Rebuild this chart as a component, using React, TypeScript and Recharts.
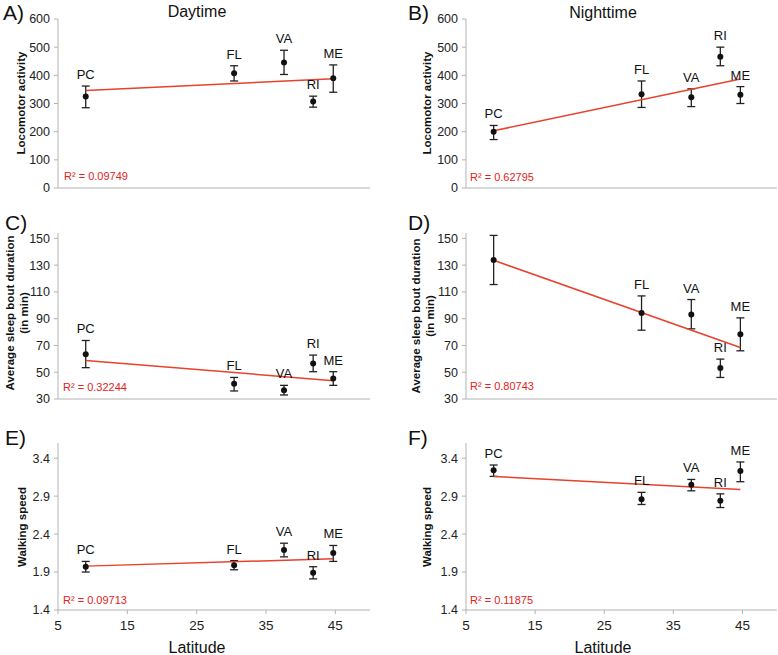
import React from 'react';
import { ScatterChart, Scatter, XAxis, YAxis, ErrorBar } from 'recharts';

// ---------- data ----------
const sites = ['PC', 'FL', 'VA', 'RI', 'ME'];
const latitude = [9.0, 30.4, 37.6, 41.8, 44.7];
const latTicks = [5, 15, 25, 35, 45];

const dayLoco = [325, 407, 446, 307, 390];
const dayLocoLo = [285, 380, 403, 287, 340];
const dayLocoHi = [362, 434, 489, 326, 437];
const dayLocoTrend = [346, 388];
const dayLocoR2 = 'R² = 0.09749';

const nightLoco = [200, 333, 322, 466, 331];
const nightLocoLo = [172, 286, 289, 434, 300];
const nightLocoHi = [222, 380, 352, 500, 360];
const nightLocoTrend = [203, 387];
const nightLocoR2 = 'R² = 0.62795';

const daySleep = [63.5, 41.4, 36.5, 56.6, 45.4];
const daySleepLo = [53.4, 36.0, 33.0, 50.4, 40.2];
const daySleepHi = [73.7, 46.1, 40.2, 62.8, 50.4];
const daySleepTrend = [58.8, 43.7];
const daySleepR2 = 'R² = 0.32244';

const nightSleep = [133.9, 94.3, 93.1, 53.1, 78.4];
const nightSleepLo = [115.5, 81.4, 82.4, 46.1, 66.0];
const nightSleepHi = [152.2, 107.0, 104.3, 59.8, 90.6];
const nightSleepTrend = [133.6, 68.5];
const nightSleepR2 = 'R² = 0.80743';

const dayWalk = [1.97, 1.99, 2.19, 1.89, 2.15];
const dayWalkLo = [1.90, 1.93, 2.10, 1.81, 2.04];
const dayWalkHi = [2.04, 2.05, 2.28, 1.97, 2.25];
const dayWalkTrend = [1.978, 2.074];
const dayWalkR2 = 'R² = 0.09713';

const nightWalk = [3.24, 2.86, 3.05, 2.84, 3.23];
const nightWalkLo = [3.16, 2.79, 2.97, 2.75, 3.09];
const nightWalkHi = [3.31, 2.95, 3.12, 2.93, 3.35];
const nightWalkTrend = [3.159, 2.989];
const nightWalkR2 = 'R² = 0.11875';

const locoTicks = [0, 100, 200, 300, 400, 500, 600];
const sleepTicks = [30, 50, 70, 90, 110, 130, 150];
const walkTicks = [1.4, 1.9, 2.4, 2.9, 3.4];

// ---------- styles ----------
const FONT = '"Liberation Sans", Arial, Helvetica, sans-serif';
const AXIS = '#b3b3b3';
const RED = '#e8412c';
const RTEXT = '#e3221b';

type PanelProps = {
  left: number; top: number; width: number; height: number;
  plotLeft: number; plotTop: number; plotRight: number; xAxisH: number; bottom: number;
  vals: number[]; lo: number[]; hi: number[]; trend: number[];
  domain: [number, number]; ticks: number[]; showX: boolean;
};

const Dot = (p: any) => <circle cx={p.cx} cy={p.cy} r={3} fill="#111" />;
const Empty = () => <g />;
const SiteLabel = (p: any) => (
  <text x={p.cx} y={p.cy - 7} textAnchor="middle" fontSize={13} fontFamily={FONT} fill="#111">
    {p.payload.name}
  </text>
);

function Panel(props: PanelProps) {
  const { vals, lo, hi, trend } = props;
  const pts = vals.map((v, i) => ({ x: latitude[i], y: v, err: [v - lo[i], hi[i] - v], name: sites[i] }));
  const labels = hi.map((h, i) => ({ x: latitude[i], y: h, name: sites[i] }));
  const trendPts = [
    { x: latitude[0], y: trend[0] },
    { x: latitude[latitude.length - 1], y: trend[1] },
  ];
  return (
    <div style={{ position: 'absolute', left: props.left, top: props.top }}>
      <ScatterChart
        width={props.width}
        height={props.height}
        margin={{ top: props.plotTop, right: props.width - props.plotRight, bottom: props.bottom, left: 0 }}
      >
        <XAxis
          type="number"
          dataKey="x"
          domain={[5, 50]}
          ticks={latTicks}
          stroke={AXIS}
          tickSize={4}
          tickMargin={6}
          height={props.xAxisH}
          tick={props.showX ? { fill: '#222', fontSize: 13.5, fontFamily: FONT } : false}
          interval={0}
        />
        <YAxis
          type="number"
          dataKey="y"
          domain={props.domain}
          ticks={props.ticks}
          stroke={AXIS}
          tickSize={4}
          tickMargin={4}
          width={props.plotLeft}
          interval={0}
          allowDataOverflow
          tick={{ fill: '#222', fontSize: 12.5, fontFamily: FONT }}
        />
        <Scatter data={trendPts} line={{ stroke: RED, strokeWidth: 1.5 }} shape={Empty} isAnimationActive={false} />
        <Scatter data={pts} shape={Dot} isAnimationActive={false}>
          <ErrorBar dataKey="err" direction="y" width={4} stroke="#222" strokeWidth={1.3} />
        </Scatter>
        <Scatter data={labels} shape={SiteLabel} isAnimationActive={false} />
      </ScatterChart>
    </div>
  );
}

const YLab = ({ cx, cy, lines }: { cx: number; cy: number; lines: string[] }) => (
  <text
    transform={`translate(${cx},${cy}) rotate(-90)`}
    textAnchor="middle"
    fontSize={11.5}
    fontWeight="bold"
    fontFamily={FONT}
    fill="#111"
  >
    {lines.map((l, i) => (
      <tspan key={i} x={0} dy={i === 0 ? (lines.length > 1 ? -3 : 4) : 14}>{l}</tspan>
    ))}
  </text>
);

export default function App() {
  const L = { left: 0, width: 390, plotLeft: 58, plotRight: 370 };
  const R = { left: 390, width: 388, plotLeft: 76, plotRight: 387 };
  const rowA = { top: 0, height: 200, plotTop: 19, xAxisH: 12, bottom: 0, domain: [0, 600] as [number, number], ticks: locoTicks, showX: false };
  const rowC = { top: 200, height: 220, plotTop: 33, xAxisH: 12, bottom: 9, domain: [30, 154] as [number, number], ticks: sleepTicks, showX: false };
  const rowE = { top: 420, height: 235, plotTop: 23, xAxisH: 30, bottom: 15, domain: [1.4, 3.6] as [number, number], ticks: walkTicks, showX: true };
  return (
    <div style={{ position: 'absolute', left: 0, top: 0, width: 778, height: 655, background: '#fff', overflow: 'hidden' }}>
      <Panel {...L} {...rowA} vals={dayLoco} lo={dayLocoLo} hi={dayLocoHi} trend={dayLocoTrend} />
      <Panel {...R} {...rowA} vals={nightLoco} lo={nightLocoLo} hi={nightLocoHi} trend={nightLocoTrend} />
      <Panel {...L} {...rowC} vals={daySleep} lo={daySleepLo} hi={daySleepHi} trend={daySleepTrend} />
      <Panel {...R} {...rowC} vals={nightSleep} lo={nightSleepLo} hi={nightSleepHi} trend={nightSleepTrend} />
      <Panel {...L} {...rowE} vals={dayWalk} lo={dayWalkLo} hi={dayWalkHi} trend={dayWalkTrend} />
      <Panel {...R} {...rowE} vals={nightWalk} lo={nightWalkLo} hi={nightWalkHi} trend={nightWalkTrend} />
      <svg width={778} height={655} style={{ position: 'absolute', left: 0, top: 0, pointerEvents: 'none' }}>
        <g fontFamily={FONT} fill="#111">
          <text x={3} y={20} fontSize={21}>A)</text>
          <text x={408} y={20} fontSize={21}>B)</text>
          <text x={5} y={230} fontSize={21}>C)</text>
          <text x={408} y={230} fontSize={21}>D)</text>
          <text x={5} y={445} fontSize={21}>E)</text>
          <text x={408} y={445} fontSize={21}>F)</text>
          <text x={197} y={17} fontSize={16} textAnchor="middle">Daytime</text>
          <text x={603} y={18} fontSize={16} textAnchor="middle">Nighttime</text>
          <text x={197} y={653} fontSize={16} textAnchor="middle">Latitude</text>
          <text x={603} y={653} fontSize={16} textAnchor="middle">Latitude</text>
        </g>
        <YLab cx={21} cy={103} lines={['Locomotor activity']} />
        <YLab cx={427} cy={103} lines={['Locomotor activity']} />
        <YLab cx={17} cy={313} lines={['Average sleep bout duration', '(in min)']} />
        <YLab cx={423} cy={316} lines={['Average sleep bout duration', '(in min)']} />
        <YLab cx={22} cy={527} lines={['Walking speed']} />
        <YLab cx={427} cy={527} lines={['Walking speed']} />
        <g fontFamily={FONT} fontSize={11} fill={RTEXT}>
          <text x={64} y={180}>{dayLocoR2}</text>
          <text x={470} y={181}>{nightLocoR2}</text>
          <text x={63} y={391}>{daySleepR2}</text>
          <text x={470} y={390}>{nightSleepR2}</text>
          <text x={63} y={604}>{dayWalkR2}</text>
          <text x={470} y={604}>{nightWalkR2}</text>
        </g>
      </svg>
    </div>
  );
}
